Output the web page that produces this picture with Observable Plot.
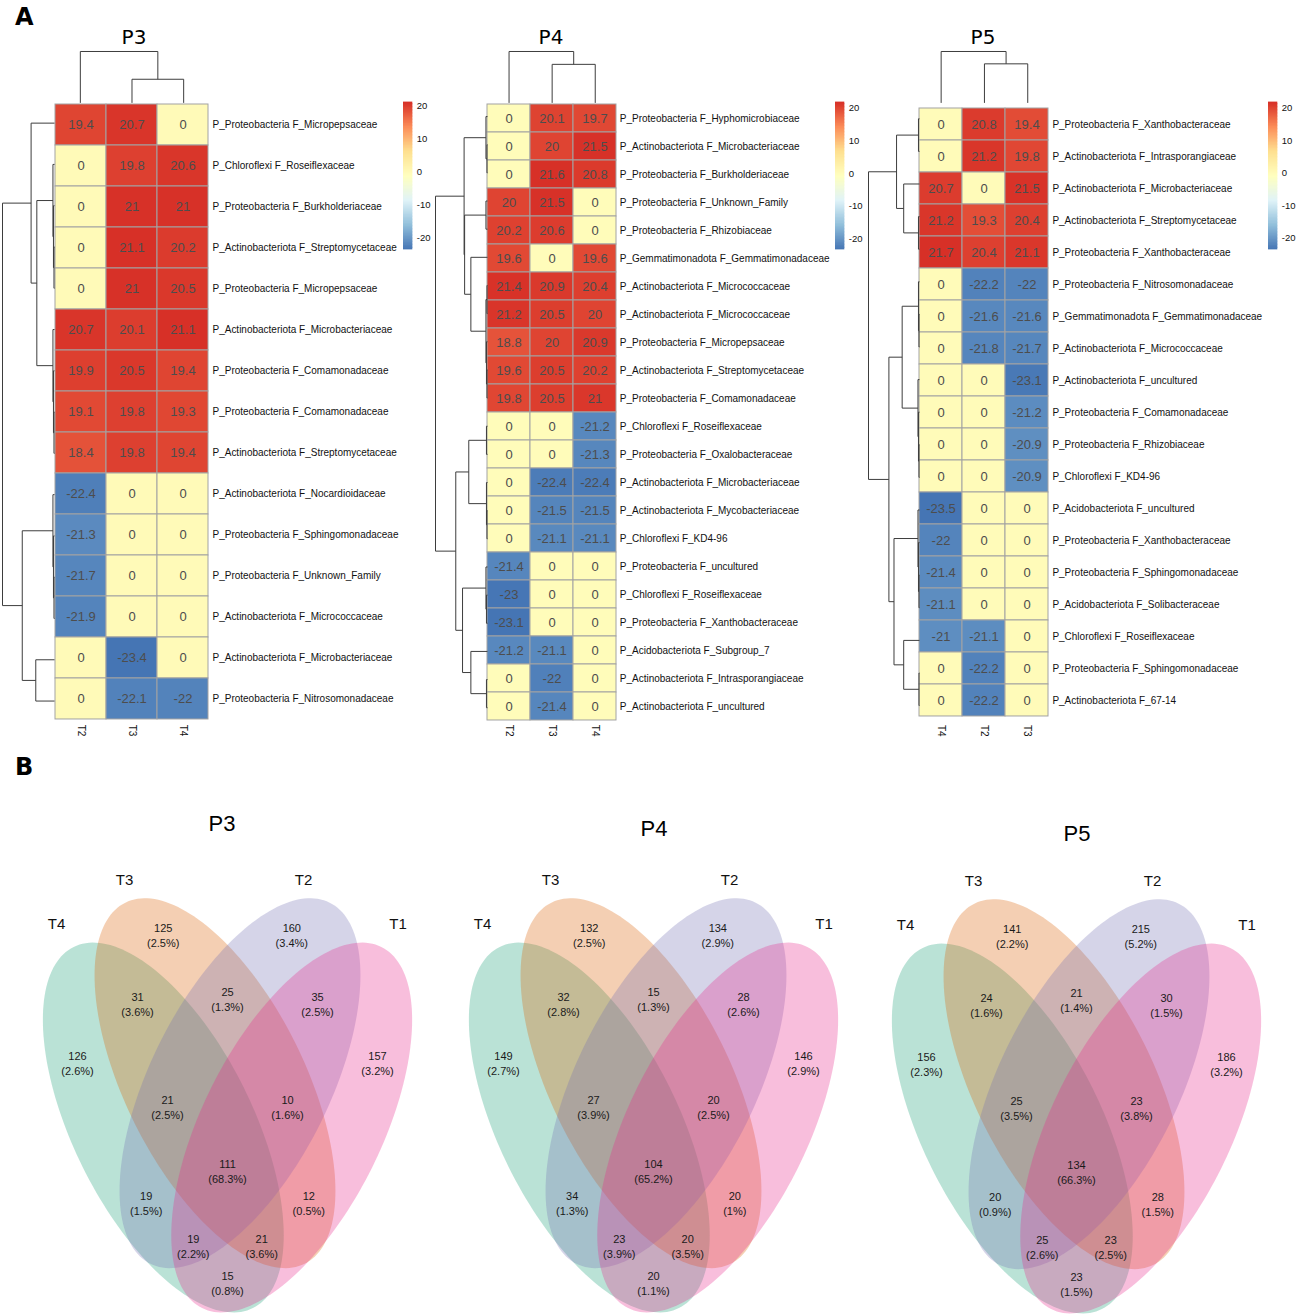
<!DOCTYPE html>
<html><head><meta charset="utf-8">
<script src="https://cdn.jsdelivr.net/npm/d3@7"></script>
<script src="https://cdn.jsdelivr.net/npm/@observablehq/plot@0.6"></script>
<style>
body{margin:0;background:#fff;}
#root{position:relative;width:1297px;height:1315px;overflow:hidden;background:#fff;font-family:"Liberation Sans",Arial,sans-serif;}
#root svg{position:absolute;max-width:none !important;overflow:visible;background:transparent !important;}
</style></head><body><div id="root"></div>
<script>
// ---------------- DATA ----------------
const p3Cols = ["T2","T3","T4"];
const p3Rows = [
 "P_Proteobacteria F_Micropepsaceae","P_Chloroflexi F_Roseiflexaceae","P_Proteobacteria F_Burkholderiaceae",
 "P_Actinobacteriota F_Streptomycetaceae","P_Proteobacteria F_Micropepsaceae","P_Actinobacteriota F_Microbacteriaceae",
 "P_Proteobacteria F_Comamonadaceae","P_Proteobacteria F_Comamonadaceae","P_Actinobacteriota F_Streptomycetaceae",
 "P_Actinobacteriota F_Nocardioidaceae","P_Proteobacteria F_Sphingomonadaceae","P_Proteobacteria F_Unknown_Family",
 "P_Actinobacteriota F_Micrococcaceae","P_Actinobacteriota F_Microbacteriaceae","P_Proteobacteria F_Nitrosomonadaceae"];
const p3Values = [[19.4,20.7,0],[0,19.8,20.6],[0,21,21],[0,21.1,20.2],[0,21,20.5],[20.7,20.1,21.1],[19.9,20.5,19.4],
 [19.1,19.8,19.3],[18.4,19.8,19.4],[-22.4,0,0],[-21.3,0,0],[-21.7,0,0],[-21.9,0,0],[0,-23.4,0],[0,-22.1,-22]];
const p3RowTree = [1.0,
  [0.45, 0, [0.34, [0.03, 1, [0.02, 2, [0.01, 3, 4]]], [0.03, 5, [0.02, 6, [0.01, 7, 8]]]]],
  [0.62, [0.03, 9, [0.02, 10, [0.01, 11, 12]]], [0.36, 13, 14]]];
const p3ColTree = [1.0, 0, [0.46, 1, 2]];

const p4Cols = ["T2","T3","T4"];
const p4Rows = [
 "P_Proteobacteria F_Hyphomicrobiaceae","P_Actinobacteriota F_Microbacteriaceae","P_Proteobacteria F_Burkholderiaceae",
 "P_Proteobacteria F_Unknown_Family","P_Proteobacteria F_Rhizobiaceae","P_Gemmatimonadota F_Gemmatimonadaceae",
 "P_Actinobacteriota F_Micrococcaceae","P_Actinobacteriota F_Micrococcaceae","P_Proteobacteria F_Micropepsaceae",
 "P_Actinobacteriota F_Streptomycetaceae","P_Proteobacteria F_Comamonadaceae","P_Chloroflexi F_Roseiflexaceae",
 "P_Proteobacteria F_Oxalobacteraceae","P_Actinobacteriota F_Microbacteriaceae","P_Actinobacteriota F_Mycobacteriaceae",
 "P_Chloroflexi F_KD4-96","P_Proteobacteria F_uncultured","P_Chloroflexi F_Roseiflexaceae",
 "P_Proteobacteria F_Xanthobacteraceae","P_Acidobacteriota F_Subgroup_7","P_Actinobacteriota F_Intrasporangiaceae",
 "P_Actinobacteriota F_uncultured"];
const p4Values = [[0,20.1,19.7],[0,20,21.5],[0,21.6,20.8],[20,21.5,0],[20.2,20.6,0],[19.6,0,19.6],[21.4,20.9,20.4],
 [21.2,20.5,20],[18.8,20,20.9],[19.6,20.5,20.2],[19.8,20.5,21],[0,0,-21.2],[0,0,-21.3],[0,-22.4,-22.4],[0,-21.5,-21.5],
 [0,-21.1,-21.1],[-21.4,0,0],[-23,0,0],[-23.1,0,0],[-21.2,-21.1,0],[0,-22,0],[0,-21.4,0]];
const p4RowTree = [1.0,
  [0.45, [0.03, 0, [0.01, 1, 2]], [0.44, [0.03, 3, 4], [0.32, 5, [0.03, [0.01, 6, 7], [0.02, 8, [0.01, 9, 10]]]]]],
  [0.61, [0.36, [0.02, 11, 12], [0.02, 13, [0.01, 14, 15]]], [0.48, [0.03, 16, [0.02, 17, 18]], [0.32, 19, [0.02, 20, 21]]]]];
const p4ColTree = [1.0, 0, [0.75, 1, 2]];

const p5Cols = ["T4","T2","T3"];
const p5Rows = [
 "P_Proteobacteria F_Xanthobacteraceae","P_Actinobacteriota F_Intrasporangiaceae","P_Actinobacteriota F_Microbacteriaceae",
 "P_Actinobacteriota F_Streptomycetaceae","P_Proteobacteria F_Xanthobacteraceae","P_Proteobacteria F_Nitrosomonadaceae",
 "P_Gemmatimonadota F_Gemmatimonadaceae","P_Actinobacteriota F_Micrococcaceae","P_Actinobacteriota F_uncultured",
 "P_Proteobacteria F_Comamonadaceae","P_Proteobacteria F_Rhizobiaceae","P_Chloroflexi F_KD4-96",
 "P_Acidobacteriota F_uncultured","P_Proteobacteria F_Xanthobacteraceae","P_Proteobacteria F_Sphingomonadaceae",
 "P_Acidobacteriota F_Solibacteraceae","P_Chloroflexi F_Roseiflexaceae","P_Proteobacteria F_Sphingomonadaceae",
 "P_Actinobacteriota F_67-14"];
const p5Values = [[0,20.8,19.4],[0,21.2,19.8],[20.7,0,21.5],[21.2,19.3,20.4],[21.7,20.4,21.1],[0,-22.2,-22],
 [0,-21.6,-21.6],[0,-21.8,-21.7],[0,0,-23.1],[0,0,-21.2],[0,0,-20.9],[0,0,-20.9],[-23.5,0,0],[-22,0,0],[-21.4,0,0],
 [-21.1,0,0],[-21,-21.1,0],[0,-22.2,0],[0,-22.2,0]];
const p5RowTree = [1.0,
  [0.45, [0.02, 0, 1], [0.31, 2, [0.02, 3, 4]]],
  [0.6, [0.34, [0.02, 5, [0.01, 6, 7]], [0.03, 8, [0.02, 9, [0.01, 10, 11]]]],
        [0.5, [0.03, 12, [0.02, 13, [0.01, 14, 15]]], [0.31, 16, [0.01, 17, 18]]]]];
const p5ColTree = [1.0, 0, [0.76, 1, 2]];

const legendTicks = [-20, -10, 0, 10, 20];
const heatColors = ["#4575B4","#91BFDB","#E0F3F8","#FFFFBF","#FEE090","#FC8D59","#D73027"];

// Venn data
const vennRegionNames = ["T3","T2","T3∩T4","T2∩T3","T1∩T2","T4","T1","T2∩T3∩T4","T1∩T2∩T3","T1∩T2∩T3∩T4","T2∩T4","T1∩T3","T1∩T2∩T4","T1∩T3∩T4","T1∩T4"];
const p3Counts = [125,160,31,25,35,126,157,21,10,111,19,12,19,21,15];
const p3Pct = ["2.5%","3.4%","3.6%","1.3%","2.5%","2.6%","3.2%","2.5%","1.6%","68.3%","1.5%","0.5%","2.2%","3.6%","0.8%"];
const p4Counts = [132,134,32,15,28,149,146,27,20,104,34,20,23,20,20];
const p4Pct = ["2.5%","2.9%","2.8%","1.3%","2.6%","2.7%","2.9%","3.9%","2.5%","65.2%","1.3%","1%","3.9%","3.5%","1.1%"];
const p5Counts = [141,215,24,21,30,156,186,25,23,134,20,28,25,23,23];
const p5Pct = ["2.2%","5.2%","1.6%","1.4%","1.5%","2.3%","3.2%","3.5%","3.8%","66.3%","0.9%","1.5%","2.6%","2.5%","1.5%"];
const vennSets = ["T4","T3","T2","T1"];
const vennColors = ["#1B9E77","#D95F02","#7570B3","#E7298A"];

// ---------------- LAYOUT (geometry) ----------------
// Venn geometry in units (1 unit = 100px), origin at bottom tip
const vennA = 2.016, vennB = 0.898, vennTilt = 26.4;
const vennEllipses = [{cx:-0.642, cy:1.85, lean:-1},{cx:-0.125, cy:2.293, lean:-1},{cx:0.125, cy:2.293, lean:1},{cx:0.642, cy:1.85, lean:1}];
const vennRegionXY = [[-0.643,3.78],[0.643,3.78],[-0.9,3.085],[0,3.135],[0.9,3.085],[-1.5,2.495],[1.5,2.495],
  [-0.6,2.062],[0.6,2.062],[0,1.418],[-0.813,1.095],[0.813,1.095],[-0.342,0.672],[0.342,0.672],[0,0.295]];
const vennSetXY = [[-1.71,3.88],[-1.03,4.32],[0.76,4.32],[1.705,3.88]];

const root = document.getElementById("root");
function put(node, left, top){ node.style.left = left + "px"; node.style.top = top + "px"; root.append(node); }
const FONT = '"Liberation Sans", Arial, Helvetica, sans-serif';
const baseStyle = {fontFamily: FONT, fontSize: "10px", background: "transparent", overflow: "visible", color: "#111"};

function treeSegments(tree){
  const segs = [];
  (function walk(node){
    if (typeof node === "number") return {pos: node, h: 0};
    const [h, l, r] = node;
    const a = walk(l), b = walk(r);
    segs.push({p1: a.pos, h1: h, p2: b.pos, h2: h});
    segs.push({p1: a.pos, h1: a.h, p2: a.pos, h2: h});
    segs.push({p1: b.pos, h1: b.h, p2: b.pos, h2: h});
    return {pos: (a.pos + b.pos) / 2, h};
  })(tree);
  return segs;
}

function drawHeatmap(rows, cols, values, rowTree, colTree, L){
  const n = rows.length;
  const cellsW = L.cellW * cols.length, cellsH = L.cellH * n;
  const flat = values.flatMap((r, i) => r.map((v, j) => ({row: i, col: cols[j], value: v})));
  const ext = d3.extent(flat, d => d.value);
  const color = {type: "linear", domain: ext, interpolate: d3.piecewise(d3.interpolateRgb, heatColors)};
  const treeStroke = "#3c3c3c";

  const hm = Plot.plot({
    width: cellsW + 1 + 220, height: cellsH + 1 + 30,
    marginLeft: 1, marginTop: 1, marginRight: 220, marginBottom: 30,
    style: baseStyle,
    x: {domain: cols, padding: 0, axis: "bottom", tickSize: 0, tickRotate: 90, tickPadding: 3, label: null},
    y: {domain: d3.range(n), padding: 0, axis: "right", tickSize: 0, tickPadding: 3, tickFormat: i => rows[i], label: null},
    color,
    marks: [
      Plot.cell(flat, {x: "col", y: "row", fill: "value", stroke: "#a3a3a3", strokeWidth: 1}),
      Plot.text(flat, {x: "col", y: "row", text: d => String(d.value), fill: "#4d4d4d", fontSize: 13})
    ]
  });
  put(hm, L.cellsLeft - 1, L.cellsTop - 1);

  const rd = Plot.plot({
    width: L.treeW + 2, height: cellsH + 2, margin: 1, style: baseStyle,
    x: {domain: [0, 1], reverse: true, axis: null},
    y: {domain: [-0.5, n - 0.5], reverse: true, axis: null},
    marks: [Plot.link(treeSegments(rowTree), {x1: "h1", y1: "p1", x2: "h2", y2: "p2", stroke: treeStroke, strokeWidth: 1})]
  });
  put(rd, L.cellsLeft - L.treeW - 1, L.cellsTop - 1);

  const cd = Plot.plot({
    width: cellsW + 2, height: L.treeH + 2, margin: 1, style: baseStyle,
    x: {domain: [-0.5, cols.length - 0.5], axis: null},
    y: {domain: [0, 1], axis: null},
    marks: [Plot.link(treeSegments(colTree), {x1: "p1", y1: "h1", x2: "p2", y2: "h2", stroke: treeStroke, strokeWidth: 1})]
  });
  put(cd, L.cellsLeft - 1, L.cellsTop - L.treeH - 1);

  const steps = d3.range(100).map(i => {
    const a = ext[0] + (ext[1] - ext[0]) * i / 100, b = ext[0] + (ext[1] - ext[0]) * (i + 1) / 100;
    return {y1: a, y2: b, v: (a + b) / 2};
  });
  const lg = Plot.plot({
    width: L.legW + 30, height: L.legH + 2, marginLeft: 0, marginRight: 30, marginTop: 1, marginBottom: 1,
    style: {...baseStyle, fontSize: "9.5px"},
    x: {domain: [0, 1], axis: null},
    y: {domain: ext, axis: "right", ticks: legendTicks, tickSize: 0, tickPadding: 4, tickFormat: d => String(d), label: null},
    color,
    marks: [Plot.rect(steps, {x1: 0, x2: 1, y1: "y1", y2: "y2", fill: "v", insetTop: -0.4, insetBottom: -0.4})]
  });
  put(lg, L.legLeft, L.legTop - 1);
}

drawHeatmap(p3Rows, p3Cols, p3Values, p3RowTree, p3ColTree,
  {cellsLeft: 54, cellsTop: 102.4, cellW: 51.67, cellH: 41.28, treeW: 52, treeH: 51.4, legLeft: 403.3, legTop: 102, legW: 9.3, legH: 147});
drawHeatmap(p4Rows, p4Cols, p4Values, p4RowTree, p4ColTree,
  {cellsLeft: 486.7, cellsTop: 102.4, cellW: 43.1, cellH: 28.15, treeW: 52, treeH: 51.4, legLeft: 835.3, legTop: 102, legW: 9.3, legH: 147});
drawHeatmap(p5Rows, p5Cols, p5Values, p5RowTree, p5ColTree,
  {cellsLeft: 919.3, cellsTop: 102.4, cellW: 43.3, cellH: 32.6, treeW: 51, treeH: 51.4, legLeft: 1268.3, legTop: 102, legW: 9.3, legH: 147});

function ellipsePoints(e){
  const t = vennTilt * Math.PI / 180;
  const dx = e.lean * Math.sin(t), dy = Math.cos(t);
  const nx = Math.cos(t), ny = -e.lean * Math.sin(t);
  return d3.range(0, 360, 2).map(deg => {
    const a = deg * Math.PI / 180, u = vennA * Math.cos(a), v = vennB * Math.sin(a);
    return {x: e.cx + u * dx + v * nx, y: e.cy + u * dy + v * ny};
  });
}

function drawVenn(counts, pcts, centerX, bottomY){
  const regions = vennRegionNames.map((name, i) => ({name, x: vennRegionXY[i][0], y: vennRegionXY[i][1], n: counts[i], p: pcts[i]}));
  const sets = vennSets.map((s, i) => ({s, x: vennSetXY[i][0], y: vennSetXY[i][1]}));
  const v = Plot.plot({
    width: 430, height: 470, margin: 0, style: baseStyle,
    x: {domain: [-2.15, 2.15], axis: null},
    y: {domain: [-0.1, 4.6], axis: null},
    marks: [
      ...vennEllipses.map((e, i) => Plot.line(ellipsePoints(e), {x: "x", y: "y", curve: "linear-closed", fill: vennColors[i], fillOpacity: 0.3, stroke: "none"})),
      Plot.text(regions, {x: "x", y: "y", text: d => `${d.n}\n(${d.p})`, fontSize: 11, lineHeight: 1.36, fill: "#1a1a1a"}),
      Plot.text(sets, {x: "x", y: "y", text: "s", fontSize: 15, fill: "#111"})
    ]
  });
  put(v, centerX - 215, bottomY - 460);
}
drawVenn(p3Counts, p3Pct, 227.2, 1312);
drawVenn(p4Counts, p4Pct, 652.8, 1312);
drawVenn(p5Counts, p5Pct, 1076.3, 1313);

// titles
const ov = d3.create("svg").attr("width", 1297).attr("height", 1315).style("left", "0px").style("top", "0px").style("pointer-events", "none");
const titles = [
  {t: "A", x: 15, y: 25, s: 24, w: "bold", a: "start", f: '"DejaVu Sans", sans-serif'},
  {t: "B", x: 15, y: 775, s: 24, w: "bold", a: "start", f: '"DejaVu Sans", sans-serif'},
  {t: "P3", x: 134, y: 44, s: 20, w: "normal", a: "middle", f: '"DejaVu Sans", sans-serif'},
  {t: "P4", x: 551, y: 44, s: 20, w: "normal", a: "middle", f: '"DejaVu Sans", sans-serif'},
  {t: "P5", x: 983, y: 44, s: 20, w: "normal", a: "middle", f: '"DejaVu Sans", sans-serif'},
  {t: "P3", x: 222, y: 831, s: 22, w: "normal", a: "middle", f: FONT},
  {t: "P4", x: 654, y: 836, s: 22, w: "normal", a: "middle", f: FONT},
  {t: "P5", x: 1077, y: 841, s: 22, w: "normal", a: "middle", f: FONT}
];
ov.selectAll("text").data(titles).join("text")
  .attr("x", d => d.x).attr("y", d => d.y).attr("font-size", d => d.s).attr("font-weight", d => d.w)
  .attr("text-anchor", d => d.a).attr("font-family", d => d.f).attr("fill", "#000").text(d => d.t);
root.append(ov.node());
</script></body></html>
